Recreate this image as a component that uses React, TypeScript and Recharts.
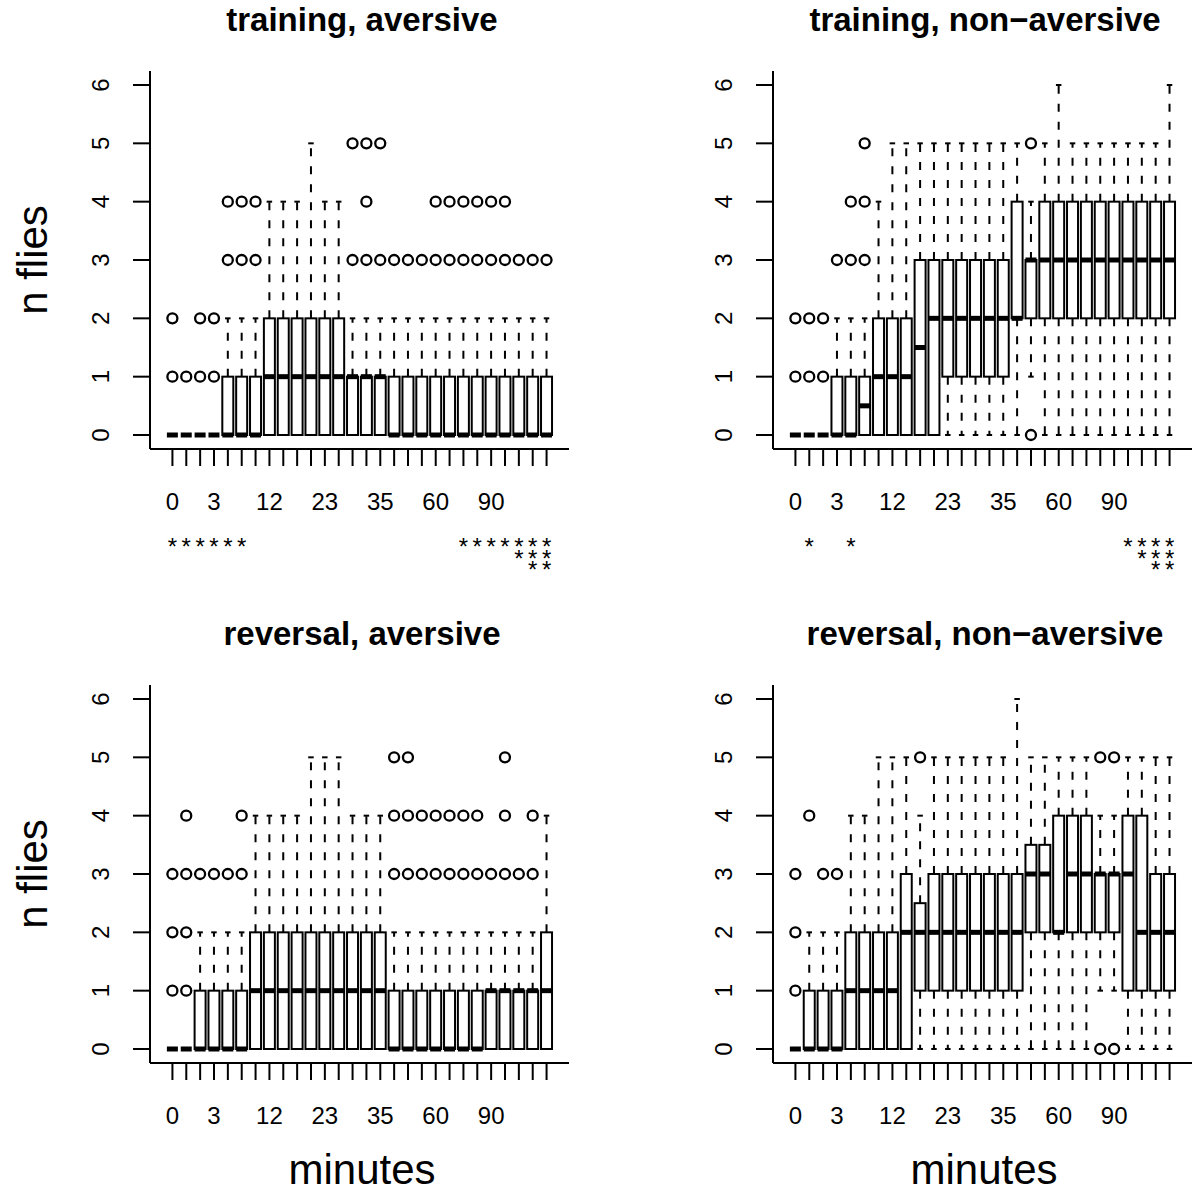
import React from "react";
import { ComposedChart, Bar, XAxis, YAxis } from "recharts";

const FONT = "'Liberation Sans', Arial, Helvetica, sans-serif";
const INK = "#000";

// 28 time slots per panel; R only printed the labels that fit
const xLabels = ["0", "", "", "3", "", "", "", "12", "", "", "", "23", "", "", "", "35", "", "", "", "60", "", "", "", "90", "", "", "", ""];
const yTicks = [0, 1, 2, 3, 4, 5, 6];

// training, aversive
const taLo = [0, 0, 0, 0, 0, 0, 0, 0, 0, 0, 0, 0, 0, 0, 0, 0, 0, 0, 0, 0, 0, 0, 0, 0, 0, 0, 0, 0];
const taQ1 = [0, 0, 0, 0, 0, 0, 0, 0, 0, 0, 0, 0, 0, 0, 0, 0, 0, 0, 0, 0, 0, 0, 0, 0, 0, 0, 0, 0];
const taMed = [0, 0, 0, 0, 0, 0, 0, 1, 1, 1, 1, 1, 1, 1, 1, 1, 0, 0, 0, 0, 0, 0, 0, 0, 0, 0, 0, 0];
const taQ3 = [0, 0, 0, 0, 1, 1, 1, 2, 2, 2, 2, 2, 2, 1, 1, 1, 1, 1, 1, 1, 1, 1, 1, 1, 1, 1, 1, 1];
const taHi = [0, 0, 0, 0, 2, 2, 2, 4, 4, 4, 5, 4, 4, 2, 2, 2, 2, 2, 2, 2, 2, 2, 2, 2, 2, 2, 2, 2];
const taOut = [[1, 2], [1], [1, 2], [1, 2], [3, 4], [3, 4], [3, 4], [], [], [], [], [], [], [3, 5], [3, 4, 5], [3, 5], [3], [3], [3], [3, 4], [3, 4], [3, 4], [3, 4], [3, 4], [3, 4], [3], [3], [3]];
const taStars = [1, 1, 1, 1, 1, 1, 0, 0, 0, 0, 0, 0, 0, 0, 0, 0, 0, 0, 0, 0, 0, 1, 1, 1, 1, 2, 3, 3];

// training, non-aversive
const tnLo = [0, 0, 0, 0, 0, 0, 0, 0, 0, 0, 0, 0, 0, 0, 0, 0, 0, 1, 0, 0, 0, 0, 0, 0, 0, 0, 0, 0];
const tnQ1 = [0, 0, 0, 0, 0, 0, 0, 0, 0, 0, 0, 1, 1, 1, 1, 1, 2, 2, 2, 2, 2, 2, 2, 2, 2, 2, 2, 2];
const tnMed = [0, 0, 0, 0, 0, 0.5, 1, 1, 1, 1.5, 2, 2, 2, 2, 2, 2, 2, 3, 3, 3, 3, 3, 3, 3, 3, 3, 3, 3];
const tnQ3 = [0, 0, 0, 1, 1, 1, 2, 2, 2, 3, 3, 3, 3, 3, 3, 3, 4, 3, 4, 4, 4, 4, 4, 4, 4, 4, 4, 4];
const tnHi = [0, 0, 0, 2, 2, 2, 4, 5, 5, 5, 5, 5, 5, 5, 5, 5, 5, 4, 5, 6, 5, 5, 5, 5, 5, 5, 5, 6];
const tnOut = [[1, 2], [1, 2], [1, 2], [3], [3, 4], [3, 4, 5], [], [], [], [], [], [], [], [], [], [], [], [0, 5], [], [], [], [], [], [], [], [], [], []];
const tnStars = [0, 1, 0, 0, 1, 0, 0, 0, 0, 0, 0, 0, 0, 0, 0, 0, 0, 0, 0, 0, 0, 0, 0, 0, 1, 2, 3, 3];

// reversal, aversive
const raLo = [0, 0, 0, 0, 0, 0, 0, 0, 0, 0, 0, 0, 0, 0, 0, 0, 0, 0, 0, 0, 0, 0, 0, 0, 0, 0, 0, 0];
const raQ1 = [0, 0, 0, 0, 0, 0, 0, 0, 0, 0, 0, 0, 0, 0, 0, 0, 0, 0, 0, 0, 0, 0, 0, 0, 0, 0, 0, 0];
const raMed = [0, 0, 0, 0, 0, 0, 1, 1, 1, 1, 1, 1, 1, 1, 1, 1, 0, 0, 0, 0, 0, 0, 0, 1, 1, 1, 1, 1];
const raQ3 = [0, 0, 1, 1, 1, 1, 2, 2, 2, 2, 2, 2, 2, 2, 2, 2, 1, 1, 1, 1, 1, 1, 1, 1, 1, 1, 1, 2];
const raHi = [0, 0, 2, 2, 2, 2, 4, 4, 4, 4, 5, 5, 5, 4, 4, 4, 2, 2, 2, 2, 2, 2, 2, 2, 2, 2, 2, 4];
const raOut = [[1, 2, 3], [1, 2, 3, 4], [3], [3], [3], [3, 4], [], [], [], [], [], [], [], [], [], [], [3, 4, 5], [3, 4, 5], [3, 4], [3, 4], [3, 4], [3, 4], [3, 4], [3], [3, 4, 5], [3], [3, 4], []];

// reversal, non-aversive
const rnLo = [0, 0, 0, 0, 0, 0, 0, 0, 0, 0, 0, 0, 0, 0, 0, 0, 0, 0, 0, 0, 0, 0, 1, 1, 0, 0, 0, 0];
const rnQ1 = [0, 0, 0, 0, 0, 0, 0, 0, 0, 1, 1, 1, 1, 1, 1, 1, 1, 2, 2, 2, 2, 2, 2, 2, 1, 1, 1, 1];
const rnMed = [0, 0, 0, 0, 1, 1, 1, 1, 2, 2, 2, 2, 2, 2, 2, 2, 2, 3, 3, 2, 3, 3, 3, 3, 3, 2, 2, 2];
const rnQ3 = [0, 1, 1, 1, 2, 2, 2, 2, 3, 2.5, 3, 3, 3, 3, 3, 3, 3, 3.5, 3.5, 4, 4, 4, 3, 3, 4, 4, 3, 3];
const rnHi = [0, 2, 2, 2, 4, 4, 5, 5, 5, 4, 5, 5, 5, 5, 5, 5, 6, 5, 5, 5, 5, 5, 4, 4, 5, 5, 5, 5];
const rnOut = [[1, 2, 3], [4], [3], [3], [], [], [], [], [], [5], [], [], [], [], [], [], [], [], [], [], [], [], [0, 5], [0, 5], [], [], [], []];

type Row = {
  slot: number;
  span: [number, number];
  lo: number;
  q1: number;
  med: number;
  q3: number;
  hi: number;
  out: number[];
};

function buildRows(lo: number[], q1: number[], med: number[], q3: number[], hi: number[], out: number[][]): Row[] {
  return xLabels.map((_, i) => {
    const all = [lo[i], hi[i], ...out[i]];
    return {
      slot: i,
      span: [Math.min(...all), Math.max(...all)],
      lo: lo[i],
      q1: q1[i],
      med: med[i],
      q3: q3[i],
      hi: hi[i],
      out: out[i],
    };
  });
}

const taRows = buildRows(taLo, taQ1, taMed, taQ3, taHi, taOut);
const tnRows = buildRows(tnLo, tnQ1, tnMed, tnQ3, tnHi, tnOut);
const raRows = buildRows(raLo, raQ1, raMed, raQ3, raHi, raOut);
const rnRows = buildRows(rnLo, rnQ1, rnMed, rnQ3, rnHi, rnOut);

// the bar spans the full range of the column, so its own pixels give the y scale
const BoxShape = (props: any) => {
  const { x, y, width, height, payload } = props;
  if (x == null || payload == null) return null;
  const [a, b] = payload.span;
  const top = Math.min(y, y + height);
  const unit = b > a ? Math.abs(height) / (b - a) : 0;
  const py = (v: number) => top + (b - v) * unit;
  const cx = x + width / 2;
  const half = width / 4;
  const { lo, q1, med, q3, hi, out } = payload as Row;
  return (
    <g>
      {hi > q3 && (
        <g>
          <line x1={cx} x2={cx} y1={py(q3)} y2={py(hi)} stroke={INK} strokeWidth={2} strokeDasharray="8 10" />
          <line x1={cx - half} x2={cx + half} y1={py(hi)} y2={py(hi)} stroke={INK} strokeWidth={2} />
        </g>
      )}
      {lo < q1 && (
        <g>
          <line x1={cx} x2={cx} y1={py(q1)} y2={py(lo)} stroke={INK} strokeWidth={2} strokeDasharray="8 10" />
          <line x1={cx - half} x2={cx + half} y1={py(lo)} y2={py(lo)} stroke={INK} strokeWidth={2} />
        </g>
      )}
      <rect x={x} y={py(q3)} width={width} height={py(q1) - py(q3)} fill="none" stroke={INK} strokeWidth={2} />
      <line x1={x} x2={x + width} y1={py(med)} y2={py(med)} stroke={INK} strokeWidth={5} />
      {out.map((v, k) => (
        <circle key={k} cx={cx} cy={py(v)} r={5} fill="none" stroke={INK} strokeWidth={2.3} />
      ))}
    </g>
  );
};

const XTick = (props: any) => {
  const { x, y, payload, stars } = props;
  const i = Number(payload.value);
  const n = stars ? stars[i] : 0;
  return (
    <g>
      {xLabels[i] !== "" && (
        <text x={x} y={y + 43.6} textAnchor="middle" fontFamily={FONT} fontSize={24} fill={INK}>
          {xLabels[i]}
        </text>
      )}
      {n > 0 && (
        <text x={x} y={y + 89} textAnchor="middle" fontFamily={FONT} fontSize={24} fill={INK}>
          {Array.from({ length: n }, (_, r) => (
            <tspan key={r} x={x} dy={r === 0 ? 0 : 11.7}>
              *
            </tspan>
          ))}
        </text>
      )}
    </g>
  );
};

const YTick = (props: any) => {
  const { x, y, payload } = props;
  const bx = x - 24.4;
  return (
    <text x={bx} y={y} transform={`rotate(-90, ${bx}, ${y})`} textAnchor="middle" fontFamily={FONT} fontSize={24} fill={INK}>
      {payload.value}
    </text>
  );
};

const line = { stroke: INK, strokeWidth: 2 };

const Panel = ({ rows, stars, left, top, h }: { rows: Row[]; stars?: number[]; left: number; top: number; h: number }) => (
  <div style={{ position: "absolute", left, top }}>
    <ComposedChart
      width={577}
      height={h}
      data={rows}
      margin={{ top: 71, right: 8, bottom: 0, left: 0 }}
      barCategoryGap="10%"
    >
      <XAxis
        dataKey="slot"
        type="category"
        interval={0}
        height={h - 449}
        padding={{ left: 15.5, right: 15.5 }}
        tickSize={17}
        tickMargin={0}
        axisLine={line}
        tickLine={line}
        tick={(p: any) => <XTick {...p} stars={stars} />}
      />
      <XAxis xAxisId="top" orientation="top" dataKey="slot" height={0} tick={false} tickLine={false} axisLine={line} />
      <YAxis
        type="number"
        domain={[-0.24, 6.24]}
        ticks={yTicks}
        width={150}
        tickSize={17}
        tickMargin={0}
        axisLine={line}
        tickLine={line}
        tick={(p: any) => <YTick {...p} />}
      />
      <YAxis yAxisId="right" orientation="right" type="number" domain={[-0.24, 6.24]} width={0} tick={false} tickLine={false} axisLine={line} />
      <Bar dataKey="span" shape={BoxShape} isAnimationActive={false} />
    </ComposedChart>
  </div>
);

const App: React.FC = () => {
  return (
    <div style={{ position: "absolute", left: 0, top: 0, width: 1201, height: 1194, overflow: "hidden", background: "#fff" }}>
      <Panel rows={raRows} left={0} top={614} h={580} />
      <Panel rows={rnRows} left={623} top={614} h={580} />
      <Panel rows={taRows} stars={taStars} left={0} top={0} h={605} />
      <Panel rows={tnRows} stars={tnStars} left={623} top={0} h={605} />
      <svg width={1201} height={1194} style={{ position: "absolute", left: 0, top: 0, pointerEvents: "none" }}>
        <g fontFamily={FONT} fill={INK} textAnchor="middle">
          <text x={362} y={31} fontSize={33} fontWeight="bold">training, aversive</text>
          <text x={985} y={31} fontSize={33} fontWeight="bold">training, non−aversive</text>
          <text x={362} y={645} fontSize={33} fontWeight="bold">reversal, aversive</text>
          <text x={985} y={645} fontSize={33} fontWeight="bold">reversal, non−aversive</text>
          <text x={47} y={260} fontSize={42} transform="rotate(-90, 47, 260)">n flies</text>
          <text x={47} y={874} fontSize={42} transform="rotate(-90, 47, 874)">n flies</text>
          <text x={362} y={1184} fontSize={42}>minutes</text>
          <text x={984} y={1184} fontSize={42}>minutes</text>
        </g>
      </svg>
    </div>
  );
};

export default App;
